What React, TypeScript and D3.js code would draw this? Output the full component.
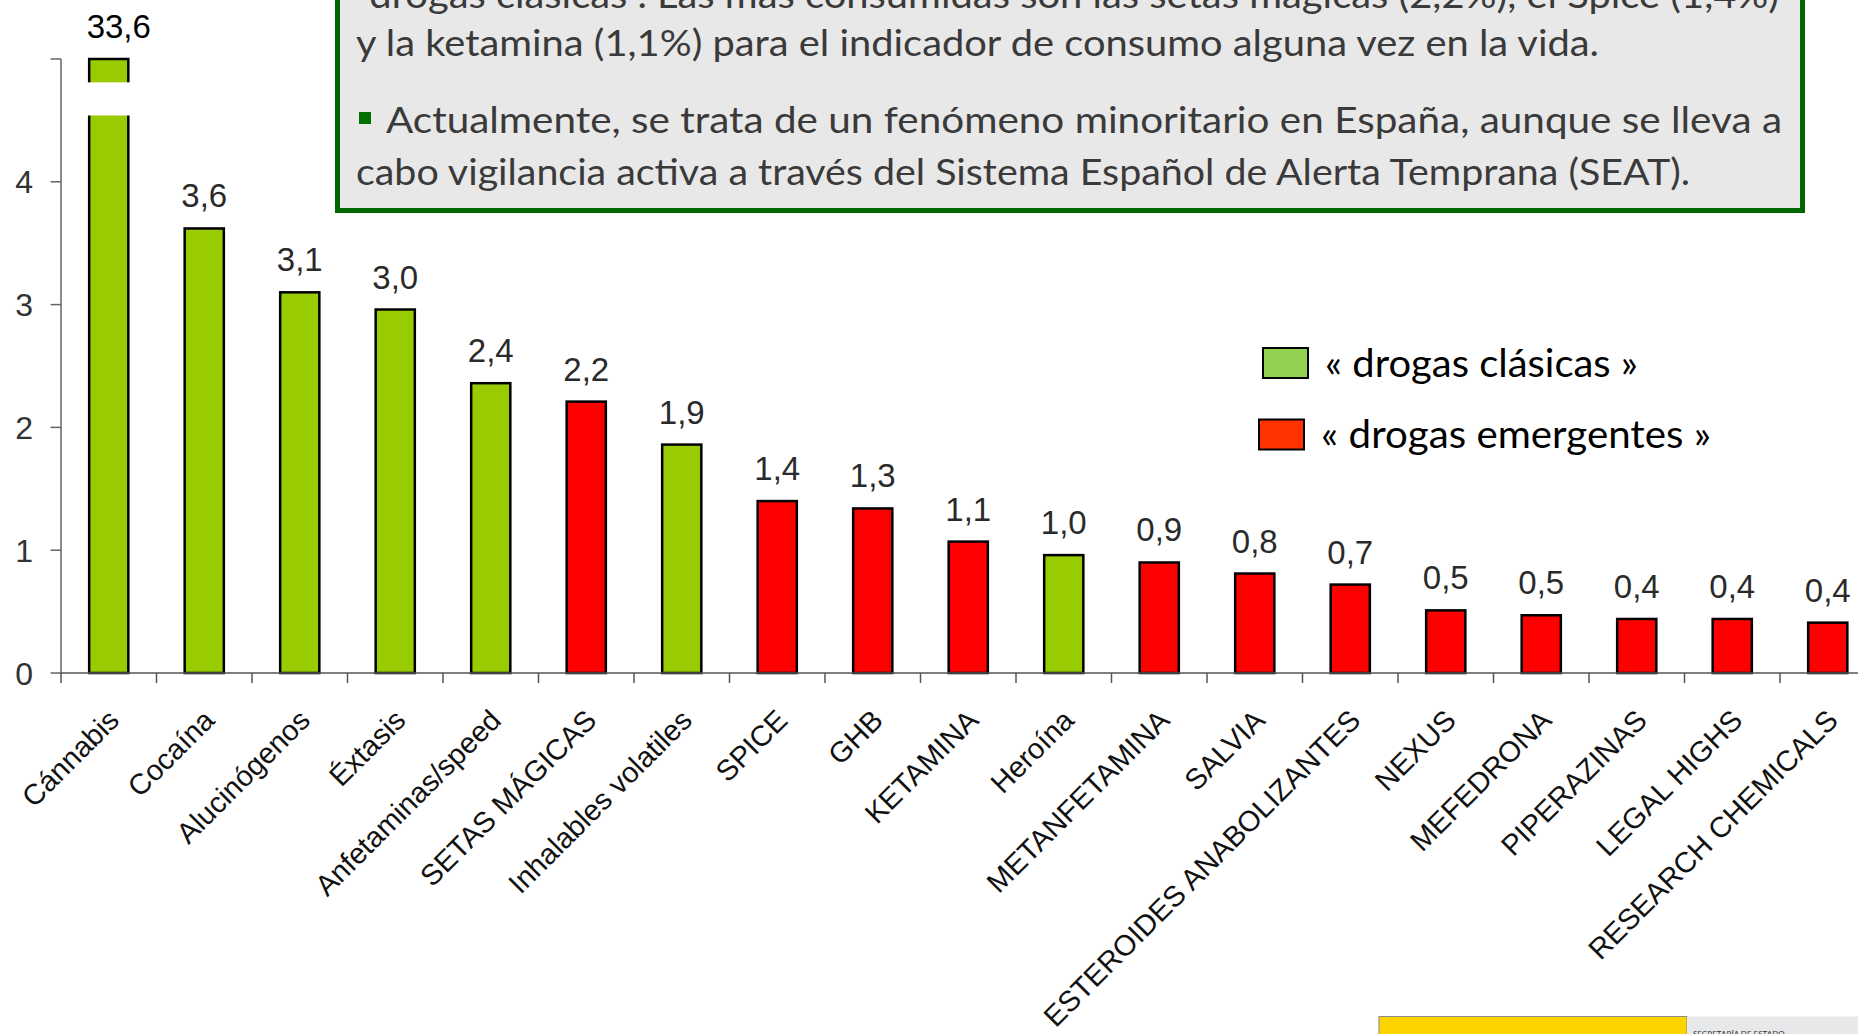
import { scaleBand, scaleLinear } from "d3"

const categories = [
  "Cánnabis", "Cocaína", "Alucinógenos", "Éxtasis", "Anfetaminas/speed", "SETAS MÁGICAS",
  "Inhalables volatiles", "SPICE", "GHB", "KETAMINA", "Heroína", "METANFETAMINA", "SALVIA",
  "ESTEROIDES ANABOLIZANTES", "NEXUS", "MEFEDRONA", "PIPERAZINAS", "LEGAL HIGHS", "RESEARCH CHEMICALS",
]
const values = [33.6, 3.62, 3.1, 2.96, 2.36, 2.21, 1.86, 1.4, 1.34, 1.07, 0.96, 0.9, 0.81, 0.72, 0.51, 0.47, 0.44, 0.44, 0.41]
const groups = [
  "clasica", "clasica", "clasica", "clasica", "clasica", "emergente", "clasica", "emergente", "emergente",
  "emergente", "clasica", "emergente", "emergente", "emergente", "emergente", "emergente", "emergente",
  "emergente", "emergente",
]
const yTicks = [0, 1, 2, 3, 4, 5]
const yTickLabels = ["0", "1", "2", "3", "4", ""]
const axisBreak = [4.54, 4.81]

const legendItems = [
  { key: "clasica", label: "« drogas clásicas »", len: 313 },
  { key: "emergente", label: "« drogas emergentes »", len: 390 },
]

const boxLines = [
  { text: "“drogas clásicas”. Las más consumidas son las setas mágicas (2,2%), el Spice (1,4%)", len: 1423, x: 356, y: 8 },
  { text: "y la ketamina (1,1%) para el indicador de consumo alguna vez en la vida.", len: 1243, x: 356, y: 56 },
  { text: "Actualmente, se trata de un fenómeno minoritario en España, aunque se lleva a", len: 1396, x: 386, y: 133, bullet: true },
  { text: "cabo vigilancia activa a través del Sistema Español de Alerta Temprana (SEAT).", len: 1334, x: 356, y: 185 },
]

const barColors = { clasica: "#99CC00", emergente: "#FF0000" }
const legendColors = { clasica: "#92D050", emergente: "#FF3300" }

const W = 1858
const H = 1034
const arial = "'Liberation Sans', Arial, sans-serif"
const calibri = "Lato, 'Open Sans', sans-serif"

const fmt = (v: number) => v.toFixed(1).replace(".", ",")

export default function App() {
  const x = scaleBand<string>()
    .domain(categories)
    .range([61, 61 + categories.length * 95.5])
    .paddingInner(0.59)
    .paddingOuter(0.295)

  const y = scaleLinear().domain([0, 5]).range([673, 59]).clamp(true)
  const step = x.step()
  const bw = x.bandwidth()
  const x0 = x.range()[0]

  return (
    <svg width={W} height={H} style={{ position: "absolute", left: 0, top: 0, display: "block", background: "#fff" }}>
      {/* text box */}
      <rect x={337.5} y={-20} width={1465} height={230.5} fill="#E8E8E8" stroke="#006600" strokeWidth={5} />
      {boxLines.map((l, i) => (
        <g key={i}>
          {l.bullet && <rect x={359} y={112} width={12} height={12} fill="#007000" />}
          <text x={l.x} y={l.y} fontFamily={calibri} fontSize={37} fill="#3a3a3a"
            textLength={l.len} lengthAdjust="spacingAndGlyphs">{l.text}</text>
        </g>
      ))}

      {/* legend */}
      {legendItems.map((d, i) => (
        <g key={d.key} transform={`translate(${i === 0 ? 1263 : 1259}, ${348 + i * 71.5})`}>
          <rect x={0} y={0} width={45} height={30} fill={legendColors[d.key]} stroke="#000" strokeWidth={2} />
          <text x={62} y={28.5} fontFamily={calibri} fontSize={39} fill="#000"
            textLength={d.len} lengthAdjust="spacingAndGlyphs">{d.label}</text>
        </g>
      ))}

      {/* y axis */}
      <line x1={61} x2={61} y1={y(5)} y2={y(0)} stroke="#666" strokeWidth={1.5} />
      {yTicks.map((t, i) => (
        <g key={t}>
          <line x1={50.5} x2={61} y1={y(t)} y2={y(t)} stroke="#666" strokeWidth={1.5} />
          <text x={33} y={y(t)} dy="0.36em" textAnchor="end" fontFamily={arial} fontSize={32} fill="#333">
            {yTickLabels[i]}
          </text>
        </g>
      ))}

      {/* bars */}
      {categories.map((c, i) => (
        <rect key={c} x={x(c)} y={y(values[i])} width={bw} height={y(0) - y(values[i])}
          fill={barColors[groups[i]]} stroke="#000" strokeWidth={2.5} />
      ))}
      {/* break on the out-of-scale bar */}
      {categories.filter((c, i) => values[i] > 5).map(c => (
        <rect key={c} x={x(c) - 3} y={y(axisBreak[1])} width={bw + 6} height={y(axisBreak[0]) - y(axisBreak[1])} fill="#fff" />
      ))}

      {/* value labels */}
      {categories.map((c, i) => (
        <text key={c} x={x(c) + bw / 2 + (values[i] > 5 ? 10 : 0)} y={y(values[i]) - 21}
          textAnchor="middle" fontFamily={arial} fontSize={33} fill={values[i] > 5 ? "#000" : "#2a2a2a"}>
          {fmt(values[i])}
        </text>
      ))}

      {/* x axis */}
      <line x1={61} x2={W} y1={y(0)} y2={y(0)} stroke="#555" strokeWidth={1.5} />
      {categories.map((c, i) => (
        <line key={c} x1={x0 + i * step} x2={x0 + i * step} y1={y(0)} y2={y(0) + 10} stroke="#555" strokeWidth={1.5} />
      ))}
      {categories.map(c => {
        const cx = x(c) + bw / 2 + 12
        const cy = y(0) + 49
        return (
          <text key={c} transform={`translate(${cx},${cy}) rotate(-45)`} textAnchor="end"
            fontFamily={arial} fontSize={29} fill="#111">{c}</text>
        )
      })}

      {/* footer logo strip */}
      <rect x={1379} y={1016.5} width={308} height={30} fill="#FDD300" stroke="#8a8a8a" strokeWidth={1} />
      <rect x={1687} y={1016.5} width={180} height={30} fill="#E7E8EA" />
      <text x={1693} y={1037} fontFamily={calibri} fontSize={8} fill="#333">SECRETARÍA DE ESTADO</text>
    </svg>
  )
}
